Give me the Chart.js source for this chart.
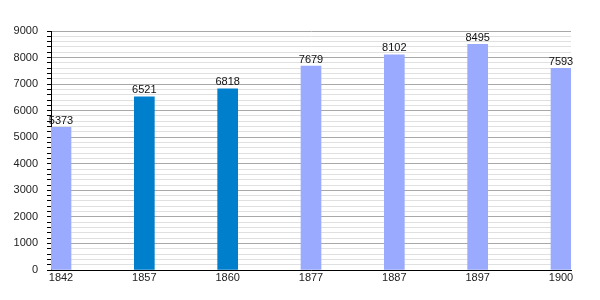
<!DOCTYPE html>
<html>
<head>
<meta charset="utf-8">
<script src="https://cdn.jsdelivr.net/npm/chart.js@4/dist/chart.umd.min.js"></script>
<style>
  html, body { margin: 0; padding: 0; background: #fff; }
  #wrap { width: 600px; height: 300px; }
</style>
</head>
<body>
<div id="wrap"><canvas id="chart" width="600" height="300"></canvas></div>
<script>
const years = ["1842", "1857", "1860", "1877", "1887", "1897", "1900"];
const population = [5373, 6521, 6818, 7679, 8102, 8495, 7593];
const barColors = ["#99aaff", "#007fcc", "#007fcc", "#99aaff", "#99aaff", "#99aaff", "#99aaff"];
const yTicks = [0, 1000, 2000, 3000, 4000, 5000, 6000, 7000, 8000, 9000];

const FONT = "'Liberation Sans', Arial, sans-serif";

// value labels above each bar
const valueLabels = {
  id: "valueLabels",
  afterDatasetsDraw(chart) {
    const ctx = chart.ctx;
    const meta = chart.getDatasetMeta(0);
    ctx.save();
    ctx.font = "11px " + FONT;
    ctx.fillStyle = "#111";
    ctx.textAlign = "center";
    ctx.textBaseline = "bottom";
    meta.data.forEach((bar, i) => {
      ctx.fillText(String(population[i]), bar.x, bar.y - 1);
    });
    ctx.restore();
  }
};

new Chart(document.getElementById("chart"), {
  type: "bar",
  data: {
    datasets: [{
      data: population.map((v, i) => ({ x: i, y: v })),
      backgroundColor: barColors,
      borderWidth: 0,
      barThickness: 20
    }]
  },
  options: {
    responsive: false,
    animation: false,
    layout: { padding: { top: 31, right: 29, bottom: 0, left: 0 } },
    plugins: { legend: { display: false }, tooltip: { enabled: false } },
    scales: {
      x: {
        type: "linear",
        offset: false,
        min: -0.12,
        max: 6.12,
        afterBuildTicks: s => { s.ticks = years.map((y, i) => ({ value: i })); },
        afterFit: s => { s.height = 30; },
        grid: { display: false, drawTicks: false },
        border: { display: true, color: "#000", width: 1 },
        ticks: {
          padding: 1,
          maxRotation: 0,
          autoSkip: false,
          color: "#222",
          font: { family: FONT, size: 11 },
          callback: v => years[v]
        }
      },
      y: {
        min: 0,
        max: 9000,
        afterFit: s => { s.width = 51; },
        ticks: {
          stepSize: 200,
          padding: 9,
          autoSkip: false,
          color: "#222",
          font: { family: FONT, size: 11 },
          callback: v => (yTicks.includes(v) ? String(v) : "")
        },
        grid: {
          color: c => (c.tick && c.tick.value % 1000 === 0 ? "#a8a8a8" : "#e0e0e0"),
          tickColor: "#000",
          tickLength: 4,
          lineWidth: 1
        },
        border: { display: true, color: "#000", width: 1 }
      }
    }
  },
  plugins: [valueLabels]
});
</script>
</body>
</html>
